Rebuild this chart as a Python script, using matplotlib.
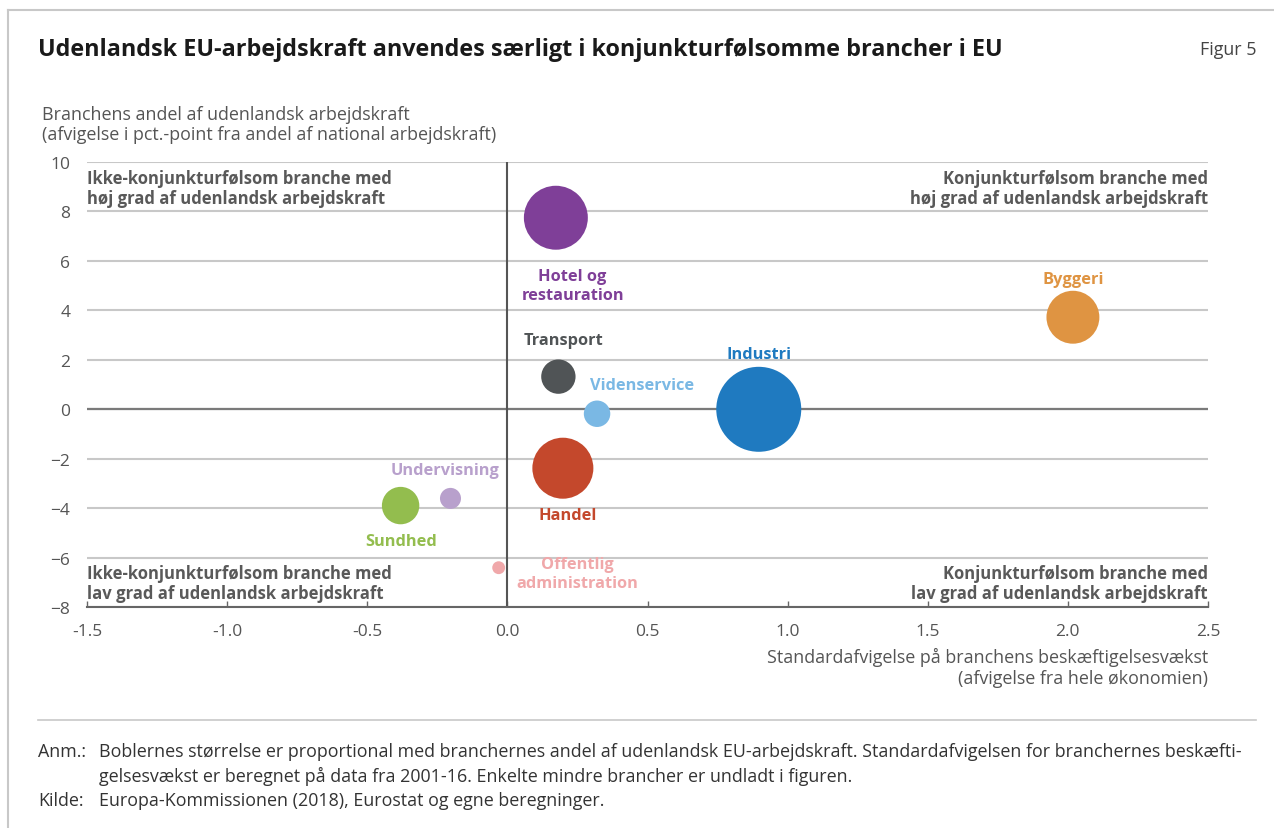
import matplotlib
matplotlib.use("Agg")
import matplotlib.pyplot as plt
import numpy as np

plt.rcParams['font.family'] = ['Open Sans', 'DejaVu Sans']

W, H = 1274, 829

# branch data
branches = ["Hotel og\nrestauration", "Transport", "Videnservice", "Industri", "Byggeri",
            "Handel", "Sundhed", "Undervisning", "Offentlig\nadministration"]
std_dev = [0.173, 0.182, 0.320, 0.897, 2.018, 0.198, -0.381, -0.203, -0.031]
foreign_share_dev = [7.74, 1.32, -0.18, 0.0, 3.72, -2.38, -3.89, -3.60, -6.40]
eu_share = [11.1, 3.2, 1.9, 19.6, 7.6, 10.1, 3.8, 1.2, 0.45]
colors = ["#7f3f98", "#505456", "#7ab8e4", "#1f7ac0", "#df9442",
          "#c4482c", "#93bd4e", "#b8a0cc", "#f0a8aa"]

# label positions (data coords)
label_x = [0.233, 0.200, 0.479, 0.897, 2.019, 0.215, -0.380, -0.224, 0.251]
label_y = [5.00, 2.80, 0.98, 2.23, 5.26, -4.27, -5.32, -2.45, -6.63]

x_ticks = [-1.5, -1.0, -0.5, 0.0, 0.5, 1.0, 1.5, 2.0, 2.5]
y_ticks = [-8, -6, -4, -2, 0, 2, 4, 6, 8, 10]

SIZE_SCALE = 191


def px(x, y):
    return x / W, 1 - y / H


fig = plt.figure(figsize=(W / 100, H / 100), dpi=100)
ax = fig.add_axes([87 / W, 1 - 608.3 / H, (1208 - 87) / W, (608.3 - 162.8) / H])

ax.set_xlim(-1.5, 2.5)
ax.set_ylim(-8, 10)
ax.set_xticks(x_ticks)
ax.set_xticklabels([f"{t:.1f}" for t in x_ticks])
ax.set_yticks(y_ticks)

ax.grid(axis='y', color='#c8c8c8', linewidth=1.5, zorder=0)
ax.set_axisbelow(True)
ax.axhline(0, color='#7a7a7a', linewidth=1.6, zorder=1)
ax.axvline(0, color='#555555', linewidth=1.5, zorder=1)

for s in ['left', 'top', 'right']:
    ax.spines[s].set_visible(False)
ax.spines['bottom'].set_color('#666666')
ax.spines['bottom'].set_linewidth(1.5)

ax.tick_params(axis='x', direction='in', length=4, width=1, color='#666666',
               labelsize=12.5, labelcolor='#555555', pad=11)
ax.tick_params(axis='y', length=0, labelsize=12.5, labelcolor='#555555', pad=12)

ax.scatter(std_dev, foreign_share_dev, s=np.array(eu_share) * SIZE_SCALE,
           c=colors, linewidths=0, zorder=3)

for name, lx, ly, col in zip(branches, label_x, label_y, colors):
    ax.text(lx, ly, name, color=col, fontsize=11.8, fontweight='bold',
            ha='center', va='center', linespacing=1.3, zorder=4)

# quadrant notes
qcol = '#595959'
fig.text(*px(87, 189), "Ikke-konjunkturfølsom branche med\nhøj grad af udenlandsk arbejdskraft",
         fontsize=12, fontweight='bold', color=qcol, ha='left', va='center', linespacing=1.15)
fig.text(*px(1208, 189), "Konjunkturfølsom branche med\nhøj grad af udenlandsk arbejdskraft",
         fontsize=12, fontweight='bold', color=qcol, ha='right', va='center',
         multialignment='right', linespacing=1.15)
fig.text(*px(87, 584), "Ikke-konjunkturfølsom branche med\nlav grad af udenlandsk arbejdskraft",
         fontsize=12, fontweight='bold', color=qcol, ha='left', va='center', linespacing=1.15)
fig.text(*px(1208, 584), "Konjunkturfølsom branche med\nlav grad af udenlandsk arbejdskraft",
         fontsize=12, fontweight='bold', color=qcol, ha='right', va='center',
         multialignment='right', linespacing=1.15)

# titles and axis labels
fig.text(*px(38, 50), "Udenlandsk EU-arbejdskraft anvendes særligt i konjunkturfølsomme brancher i EU",
         fontsize=16.8, fontweight='bold', color='#1a1a1a', ha='left', va='center')
fig.text(*px(1256, 50), "Figur 5", fontsize=12.9, color='#444444', ha='right', va='center')
fig.text(*px(42, 125), "Branchens andel af udenlandsk arbejdskraft\n(afvigelse i pct.-point fra andel af national arbejdskraft)",
         fontsize=12.9, color='#555555', ha='left', va='center', linespacing=1.1)
fig.text(*px(1208, 668), "Standardafvigelse på branchens beskæftigelsesvækst\n(afvigelse fra hele økonomien)",
         fontsize=12.9, color='#555555', ha='right', va='center', multialignment='right',
         linespacing=1.22)

# frame and separator
fig.add_artist(plt.Line2D([8 / W, 1], [1 - 11 / H, 1 - 11 / H], color='#c8c8c8', lw=1.5))
fig.add_artist(plt.Line2D([8 / W, 8 / W], [0, 1 - 11 / H], color='#c8c8c8', lw=1.5))
fig.add_artist(plt.Line2D([38 / W, 1256 / W], [1 - 721 / H, 1 - 721 / H], color='#c8c8c8', lw=1.2))

# notes
note_size = 12.9
fig.text(*px(38, 752), "Anm.:", fontsize=note_size, color='#333333', ha='left', va='center')
fig.text(*px(99, 752), "Boblernes størrelse er proportional med branchernes andel af udenlandsk EU-arbejdskraft. "
         "Standardafvigelsen for branchernes beskæfti-", fontsize=note_size, color='#333333',
         ha='left', va='center')
fig.text(*px(99, 776), "gelsesvækst er beregnet på data fra 2001-16. Enkelte mindre brancher er undladt i figuren.",
         fontsize=note_size, color='#333333', ha='left', va='center')
fig.text(*px(38, 801), "Kilde:", fontsize=note_size, color='#333333', ha='left', va='center')
fig.text(*px(99, 801), "Europa-Kommissionen (2018), Eurostat og egne beregninger.",
         fontsize=note_size, color='#333333', ha='left', va='center')

fig.savefig("out.png", dpi=100)
